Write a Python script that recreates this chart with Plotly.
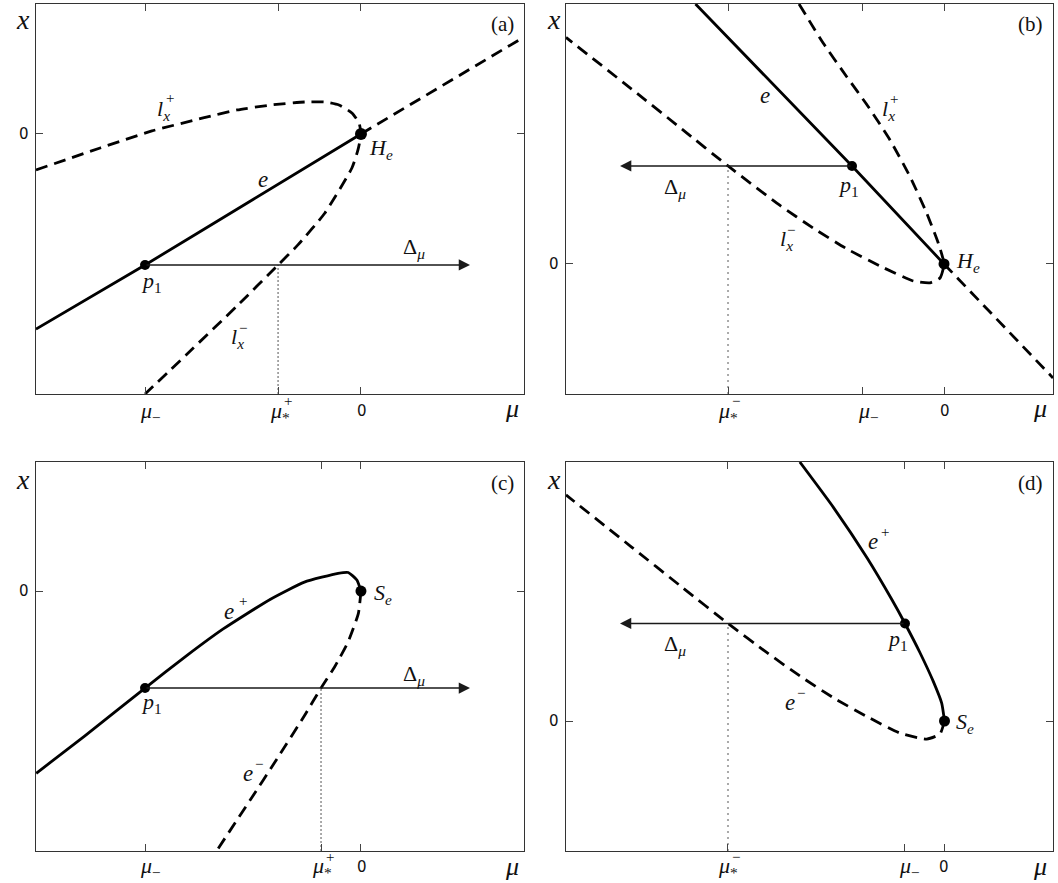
import plotly.graph_objects as go

W, H = 1058, 883
SERIF = "Liberation Serif"
SANS = "DejaVu Sans"
INK = "#111111"

# ---------------- Panel (a) ----------------
a_mu_range = [-1.505, 0.755]
a_x_range = [-1.985, 0.992]
a_mu_minus = -1.0
a_mu_star = -0.384
a_p1 = [-1.0, -1.0]
a_He = [0.0, 0.0]
a_arrow_end = 0.505
a_e_mu = [-1.505, -1.0, -0.5, 0.0]
a_e_x = [-1.49, -1.0, -0.5, 0.0]
a_unst_mu = [0.0, 0.755]
a_unst_x = [0.0, 0.74]
a_lplus_mu = [-1.505, -1.208, -0.968, -0.731, -0.574, -0.417, -0.259, -0.167, -0.102, -0.042, -0.009, 0.0]
a_lplus_x = [-0.275, -0.107, 0.023, 0.122, 0.183, 0.221, 0.244, 0.244, 0.221, 0.160, 0.084, 0.0]
a_lminus_mu = [0.0, -0.014, -0.042, -0.167, -0.292, -0.384, -0.574, -0.810, -1.0]
a_lminus_x = [0.0, -0.122, -0.260, -0.603, -0.847, -1.0, -1.313, -1.687, -1.985]

# ---------------- Panel (b) ----------------
b_mu_range = [-4.638, 1.337]
b_x_range = [-1.327, 2.653]
b_mu_minus = -1.0
b_mu_star = -2.650
b_p1 = [-1.129, 1.0]
b_He = [0.0, 0.0]
b_arrow_end = -3.975
b_e_mu = [-3.049, -1.129, 0.0]
b_e_x = [2.653, 1.0, 0.0]
b_unst_mu = [0.0, 1.337]
b_unst_x = [0.0, -1.163]
b_lplus_mu = [-1.779, -1.481, -1.194, -0.929, -0.663, -0.417, -0.212, -0.070, 0.0]
b_lplus_x = [2.653, 2.252, 1.911, 1.605, 1.265, 0.891, 0.517, 0.211, 0.0]
b_lminus_mu = [0.0, -0.049, -0.172, -0.377, -0.785, -1.194, -1.604, -2.012, -2.650, -3.215, -3.833, -4.638]
b_lminus_x = [0.0, -0.143, -0.192, -0.174, -0.021, 0.155, 0.366, 0.597, 1.0, 1.376, 1.785, 2.312]

# ---------------- Panel (c) ----------------
c_mu_range = [-1.505, 0.755]
c_x_range = [-2.680, 1.330]
c_mu_minus = -1.0
c_mu_star = -0.185
c_p1 = [-1.0, -1.0]
c_Se = [0.0, 0.0]
c_arrow_end = 0.505
c_eplus_mu = [-1.504, -1.280, -1.0, -0.810, -0.638, -0.419, -0.262, -0.106, -0.059, -0.019, 0.0]
c_eplus_x = [-1.879, -1.495, -1.0, -0.671, -0.391, -0.084, 0.092, 0.182, 0.191, 0.113, 0.0]
c_eminus_mu = [0.0, -0.012, -0.059, -0.121, -0.185, -0.262, -0.388, -0.513, -0.669]
c_eminus_x = [0.0, -0.230, -0.521, -0.778, -1.0, -1.285, -1.727, -2.155, -2.680]

# ---------------- Panel (d) ----------------
d_mu_range = [-9.582, 2.747]
d_x_range = [-1.333, 2.656]
d_mu_minus = -1.0
d_mu_star = -5.481
d_p1 = [-1.0, 1.0]
d_Se = [0.0, 0.0]
d_arrow_end = -8.215
d_eplus_mu = [-3.663, -2.813, -1.962, -1.337, -1.0, -0.620, -0.284, -0.071, 0.0]
d_eplus_x = [2.656, 2.191, 1.674, 1.248, 1.0, 0.700, 0.406, 0.183, 0.0]
d_eminus_mu = [0.0, -0.114, -0.451, -1.127, -1.970, -2.815, -3.658, -4.501, -5.481, -6.646, -7.922, -9.582]
d_eminus_x = [0.0, -0.133, -0.185, -0.124, 0.047, 0.239, 0.461, 0.703, 1.0, 1.373, 1.784, 2.318]

fig = go.Figure()

SOLID = dict(color="#000000", width=2.8)
DASHED = dict(color="#000000", width=2.8, dash="12px,7px")


def curve(ax, mu, x, style, shape="spline"):
    fig.add_trace(go.Scatter(x=mu, y=x, mode="lines", line=dict(**style, shape=shape, smoothing=0.5),
                             xaxis=ax[0], yaxis=ax[1], hoverinfo="skip", showlegend=False))


def dots(ax, pts, size):
    fig.add_trace(go.Scatter(x=[p[0] for p in pts], y=[p[1] for p in pts], mode="markers",
                             marker=dict(color="#000000", size=size), cliponaxis=False,
                             xaxis=ax[0], yaxis=ax[1], hoverinfo="skip", showlegend=False))


def vline(ax, mu, y0, y1, color, width, dash):
    fig.add_trace(go.Scatter(x=[mu, mu], y=[y0, y1], mode="lines",
                             line=dict(color=color, width=width, dash=dash),
                             xaxis=ax[0], yaxis=ax[1], hoverinfo="skip", showlegend=False))


annotations = []


def arrow(axn, x0, x1, y):
    xr = "x" if axn == 1 else "x%d" % axn
    yr = "y" if axn == 1 else "y%d" % axn
    annotations.append(dict(x=x1, y=y, ax=x0, ay=y, xref=xr, yref=yr, axref=xr, ayref=yr,
                            text="", showarrow=True, arrowhead=2, arrowsize=1.5, arrowwidth=1.5,
                            arrowcolor="#1a1a1a", standoff=0, startstandoff=0))


def lab(px, py, text, size=22, font=SERIF, color=INK):
    annotations.append(dict(xref="paper", yref="paper", x=px / W, y=1 - py / H, text=text,
                            showarrow=False, font=dict(family=font, size=size, color=color),
                            xanchor="center", yanchor="middle"))


# Panel a
A = ("x", "y")
vline(A, a_mu_star, a_x_range[0], a_p1[1], "#555555", 1, "2px,2px")
curve(A, a_lplus_mu + a_lminus_mu[1:], a_lplus_x + a_lminus_x[1:], DASHED)
curve(A, a_unst_mu, a_unst_x, DASHED, "linear")
curve(A, a_e_mu, a_e_x, SOLID)
arrow(1, a_p1[0], a_arrow_end, a_p1[1])
dots(A, [a_p1], 10)
dots(A, [a_He], 12)

# Panel b
B = ("x2", "y2")
vline(B, b_mu_star, b_x_range[0], b_p1[1], "#aaaaaa", 2, "2px,4px")
curve(B, b_lplus_mu + b_lminus_mu[1:], b_lplus_x + b_lminus_x[1:], DASHED)
curve(B, b_unst_mu, b_unst_x, DASHED, "linear")
curve(B, b_e_mu, b_e_x, SOLID, "linear")
arrow(2, b_p1[0], b_arrow_end, b_p1[1])
dots(B, [b_p1], 10)
dots(B, [b_He], 11)

# Panel c
C = ("x3", "y3")
vline(C, c_mu_star, c_x_range[0], c_p1[1], "#555555", 1, "2px,2px")
curve(C, c_eminus_mu, c_eminus_x, DASHED)
curve(C, c_eplus_mu, c_eplus_x, SOLID)
arrow(3, c_p1[0], c_arrow_end, c_p1[1])
dots(C, [c_p1], 10)
dots(C, [c_Se], 11)

# Panel d
D = ("x4", "y4")
vline(D, d_mu_star, d_x_range[0], d_p1[1], "#aaaaaa", 2, "2px,4px")
curve(D, d_eminus_mu, d_eminus_x, DASHED)
curve(D, d_eplus_mu, d_eplus_x, SOLID)
arrow(4, d_p1[0], d_arrow_end, d_p1[1])
dots(D, [d_p1], 10)
dots(D, [d_Se], 11)


# ---------- axes ----------
def axis_common(rng, tickvals, domain, anchor):
    return dict(range=rng, domain=domain, anchor=anchor, showgrid=False, zeroline=False,
                showline=True, mirror="ticks", linecolor="#333333", linewidth=1.3,
                ticks="inside", ticklen=7, tickwidth=1.2, tickcolor="#444444",
                tickvals=tickvals, showticklabels=False, fixedrange=True)


def dx(p0, p1):
    return [p0 / W, p1 / W]


def dy(top, bottom):
    return [1 - bottom / H, 1 - top / H]


LEFT = dx(36, 524)
RIGHT = dx(566, 1053)
TOP = dy(4, 394)
BOT = dy(462, 851)

layout = dict(
    width=W, height=H, margin=dict(l=0, r=0, t=0, b=0),
    paper_bgcolor="white", plot_bgcolor="white", showlegend=False,
    xaxis=axis_common(a_mu_range, [a_mu_minus, a_mu_star, 0], LEFT, "y"),
    yaxis=axis_common(a_x_range, [0], TOP, "x"),
    xaxis2=axis_common(b_mu_range, [b_mu_star, b_mu_minus, 0], RIGHT, "y2"),
    yaxis2=axis_common(b_x_range, [0], TOP, "x2"),
    xaxis3=axis_common(c_mu_range, [c_mu_minus, c_mu_star, 0], LEFT, "y3"),
    yaxis3=axis_common(c_x_range, [0], BOT, "x3"),
    xaxis4=axis_common(d_mu_range, [d_mu_star, d_mu_minus, 0], RIGHT, "y4"),
    yaxis4=axis_common(d_x_range, [0], BOT, "x4"),
)

# ---------- texts ----------
MU = "<i>μ</i>"
AST = "<sub>*</sub>"
# panel a
lab(23, 20, "<i>x</i>", 28)
lab(502, 24, "(a)", 21)
lab(512, 409, MU, 26)
lab(24, 134, "0", 15, SANS)
lab(150, 412, MU + "<sub>−</sub>", 22)
lab(280, 412, MU + AST, 22)
lab(288, 401, "+", 15)
lab(362, 411, "0", 15, SANS)
lab(163, 110, "<i>l</i><sub><i>x</i></sub>", 22)
lab(170, 98, "+", 15)
lab(237, 338, "<i>l</i><sub><i>x</i></sub>", 22)
lab(243, 328, "−", 15)
lab(263, 180, "<i>e</i>", 23)
lab(381, 149, "<i>H</i><sub><i>e</i></sub>", 22)
lab(151, 282, "<i>p</i><sub>1</sub>", 22)
lab(414, 248, "Δ<sub><i>μ</i></sub>", 22)

# panel b
lab(554, 20, "<i>x</i>", 28)
lab(1030, 24, "(b)", 21)
lab(1040, 409, MU, 26)
lab(554, 264, "0", 15, SANS)
lab(728, 412, MU + AST, 22)
lab(736, 401, "−", 15)
lab(868, 412, MU + "<sub>−</sub>", 22)
lab(945, 411, "0", 15, SANS)
lab(765, 95, "<i>e</i>", 23)
lab(888, 110, "<i>l</i><sub><i>x</i></sub>", 22)
lab(894, 99, "+", 15)
lab(786, 240, "<i>l</i><sub><i>x</i></sub>", 22)
lab(791, 230, "−", 15)
lab(848, 186, "<i>p</i><sub>1</sub>", 22)
lab(968, 262, "<i>H</i><sub><i>e</i></sub>", 22)
lab(675, 188, "Δ<sub><i>μ</i></sub>", 22)

# panel c
lab(23, 479, "<i>x</i>", 28)
lab(502, 483, "(c)", 21)
lab(512, 866, MU, 26)
lab(24, 591, "0", 15, SANS)
lab(150, 867, MU + "<sub>−</sub>", 22)
lab(322, 867, MU + AST, 22)
lab(330, 857, "+", 15)
lab(362, 867, "0", 15, SANS)
lab(229, 611, "<i>e</i>", 23)
lab(243, 601, "+", 15)
lab(248, 773, "<i>e</i>", 23)
lab(259, 764, "−", 15)
lab(383, 594, "<i>S</i><sub><i>e</i></sub>", 22)
lab(151, 703, "<i>p</i><sub>1</sub>", 22)
lab(414, 675, "Δ<sub><i>μ</i></sub>", 22)

# panel d
lab(554, 479, "<i>x</i>", 28)
lab(1030, 483, "(d)", 21)
lab(1040, 866, MU, 26)
lab(554, 721, "0", 15, SANS)
lab(728, 867, MU + AST, 22)
lab(736, 857, "−", 15)
lab(909, 867, MU + "<sub>−</sub>", 22)
lab(944, 867, "0", 15, SANS)
lab(873, 541, "<i>e</i>", 23)
lab(885, 532, "+", 15)
lab(790, 702, "<i>e</i>", 23)
lab(801, 693, "−", 15)
lab(965, 723, "<i>S</i><sub><i>e</i></sub>", 22)
lab(897, 640, "<i>p</i><sub>1</sub>", 22)
lab(675, 645, "Δ<sub><i>μ</i></sub>", 22)

layout["annotations"] = annotations
fig.update_layout(**layout)
fig.write_html("out.html")
